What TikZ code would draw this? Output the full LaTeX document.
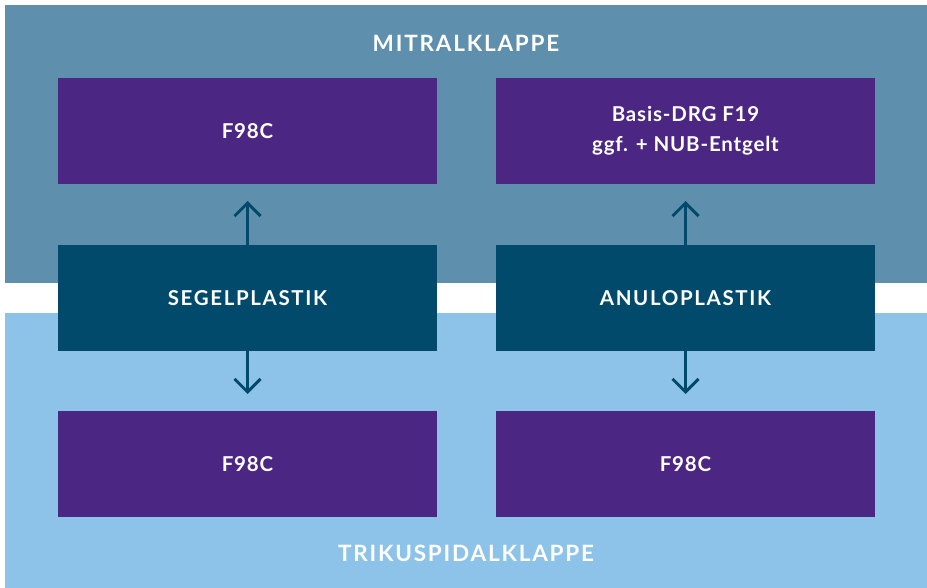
\documentclass[tikz,border=0pt]{standalone}
\usepackage{fontspec}
\setmainfont{Lato}[BoldFont={Lato Bold}]
\newfontfamily\labelfont{Lato Bold}[LetterSpace=8]
\newfontfamily\plainlabelfont{Lato Bold}[LetterSpace=4]
\usetikzlibrary{arrows.meta}
\definecolor{mitralband}{HTML}{5E8FAD}
\definecolor{trikuspidband}{HTML}{8DC3E9}
\definecolor{drgpurple}{HTML}{4B2683}
\definecolor{procteal}{HTML}{014A6B}
\tikzset{
  cell/.style={rectangle, inner sep=0pt, minimum width=379pt, minimum height=106pt,
    text=white, align=center},
  drgbox/.style={cell, fill=drgpurple, font=\plainlabelfont\fontsize{20.5}{30}\selectfont},
  procbox/.style={cell, fill=procteal, font=\labelfont\fontsize{20.5}{24}\selectfont},
  bandtitle/.style={text=white, inner sep=0pt, font=\labelfont\fontsize{22.5}{26}\selectfont},
  flow/.style={draw=procteal, line width=3pt, -{Straight Barb[length=13pt,width=26pt]}}
}
\begin{document}
\begin{tikzpicture}[x=1pt,y=1pt]
  \useasboundingbox (0,0) rectangle (927,-588);
  % valve bands
  \fill[mitralband] (5,-5) rectangle (927,-283);
  \fill[trikuspidband] (5,-313) rectangle (927,-588);
  \node[bandtitle] (mitral) at (466,-43) {MITRALKLAPPE};
  \node[bandtitle] (trikus) at (466,-553) {TRIKUSPIDALKLAPPE};
  % left column
  \node[drgbox] (lt) at (247.5,-131) {F98C};
  \node[procbox] (segel) at (247.5,-298) {SEGELPLASTIK};
  \node[drgbox] (lb) at (247.5,-464) {F98C};
  % right column
  \node[drgbox] (rt) at (685.5,-131) {Basis-DRG F19\\ggf. + NUB-Entgelt};
  \node[procbox] (anulo) at (685.5,-298) {ANULOPLASTIK};
  \node[drgbox] (rb) at (685.5,-464) {F98C};
  % arrow end points
  \coordinate (segelup) at (247.5,-201);
  \coordinate (segeldown) at (247.5,-394);
  \coordinate (anuloup) at (685.5,-201);
  \coordinate (anulodown) at (685.5,-394);
  \draw[flow] (segel.north) -- (segelup);
  \draw[flow] (segel.south) -- (segeldown);
  \draw[flow] (anulo.north) -- (anuloup);
  \draw[flow] (anulo.south) -- (anulodown);
\end{tikzpicture}
\end{document}
